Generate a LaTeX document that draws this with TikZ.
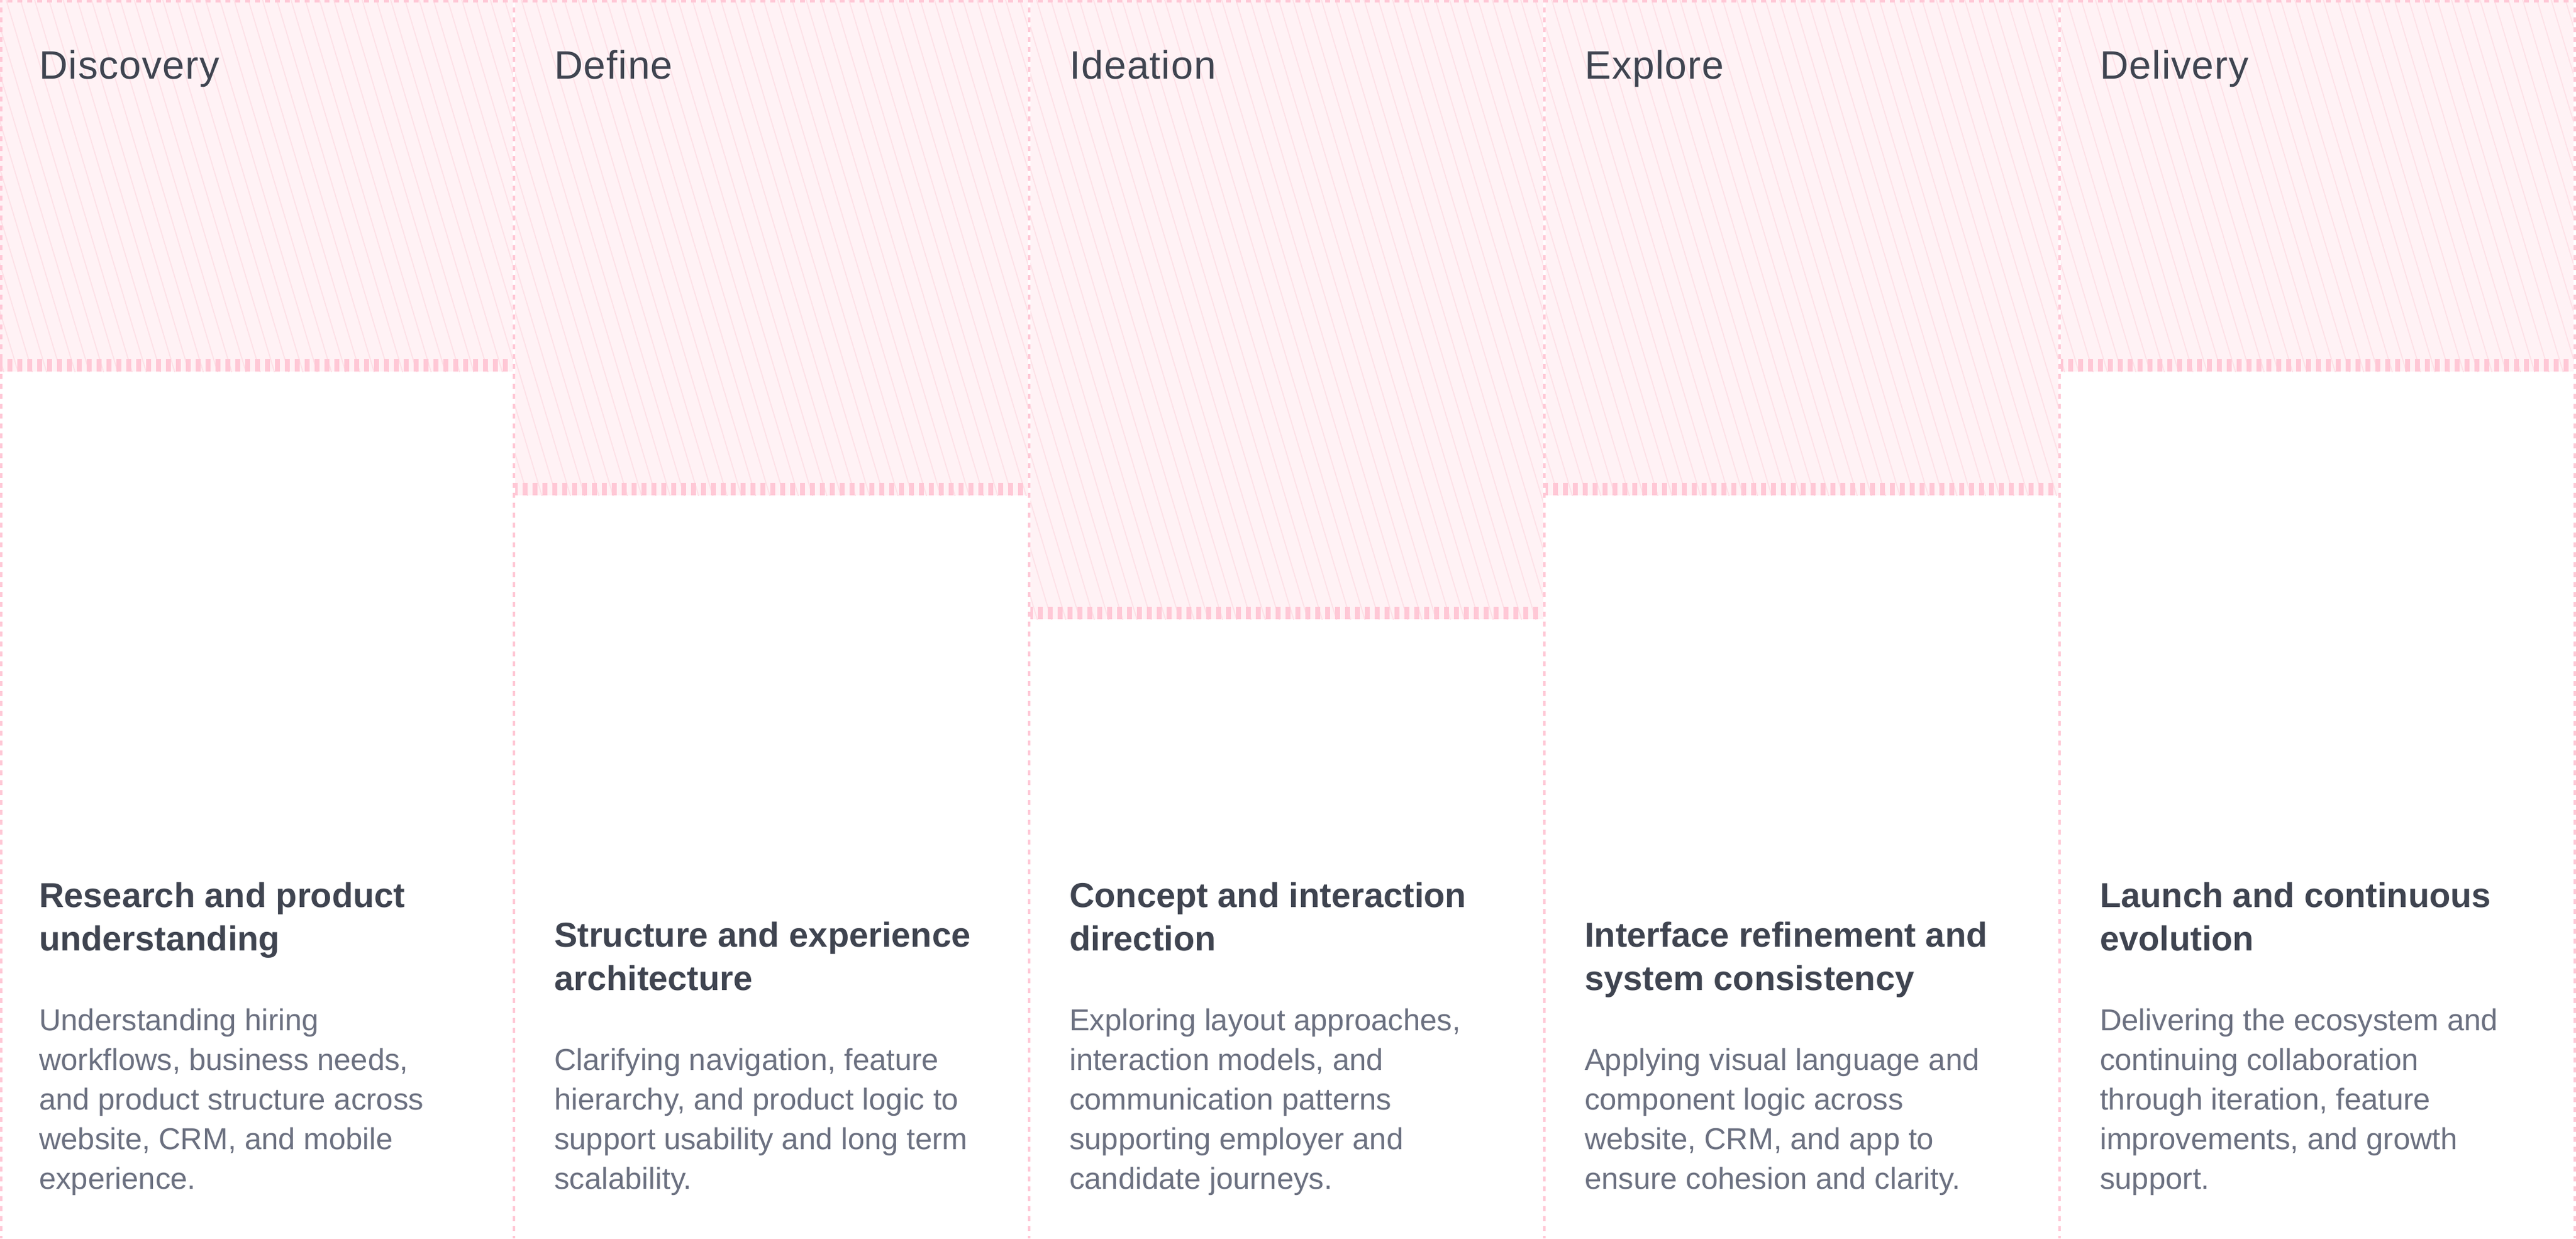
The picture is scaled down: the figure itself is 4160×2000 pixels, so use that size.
\documentclass[tikz,border=0pt]{standalone}
\usepackage{fontspec}
\setmainfont{Liberation Sans}
\newfontfamily\headfont[LetterSpace=2]{Liberation Sans}
\definecolor{hatchbg}{HTML}{FFF2F5}
\definecolor{hatchline}{HTML}{FDE1E7}
\definecolor{dashpink}{HTML}{FFC8D6}
\definecolor{headc}{HTML}{3F4450}
\definecolor{bodyc}{HTML}{6B7080}
\newcommand\mytitle[1]{\parbox[t]{780pt}{\raggedright\bfseries\fontsize{56}{70}\selectfont #1}}
\newcommand\mybody[1]{\parbox[t]{780pt}{\raggedright\fontsize{49}{64}\selectfont #1}}
\tikzset{
  head/.style={anchor=base west, inner sep=0pt, text=headc, font=\headfont\fontsize{64}{76}\selectfont},
  ttl/.style={anchor=base west, inner sep=0pt, text=headc},
  bdy/.style={anchor=base west, inner sep=0pt, text=bodyc},
  border/.style={draw=dashpink, line width=4pt, dash pattern=on 8pt off 8pt, dash phase=4pt},
  ruler/.style={draw=dashpink, line width=20pt, dash pattern=on 8pt off 8pt, dash phase=4pt},
  hatch/.style={draw=hatchline, line width=1.8pt}
}
\begin{document}
\begin{tikzpicture}[x=1pt,y=-1pt]
\useasboundingbox (0,0) rectangle (4160,2000);
\fill[white] (0,0) rectangle (4160,2000);
% hatched header blocks
\foreach \k/\h in {0/600,1/800,2/1000,3/800,4/600} {
  \pgfmathsetmacro\cx{832*\k}
  \fill[hatchbg] (\cx,0) rectangle (\cx+828,\h);
  \begin{scope}
    \clip (\cx,0) rectangle (\cx+828,\h);
    \foreach \i in {-15,...,37} {
      \draw[hatch] (\cx+\i*23+10,0) -- ++(330,1100);
    }
  \end{scope}
  \draw[ruler] (\cx,\h-10) -- (\cx+828,\h-10);
}
% borders
\draw[border] (0,2) -- (4160,2);
\foreach \x in {2,830,1662,2494,3326,4158} {
  \draw[border] (\x,0) -- (\x,2000);
}
% column 1
\node[head] (h1) at (63,127) {Discovery};
\node[ttl] (t1) at (63,1465) {\mytitle{Research and product\\understanding}};
\node[bdy] (b1) at (63,1664) {\mybody{Understanding hiring\\workflows, business needs,\\and product structure across\\website, CRM, and mobile\\experience.}};
% column 2
\node[head] (h2) at (895,127) {Define};
\node[ttl] (t2) at (895,1529) {\mytitle{Structure and experience\\architecture}};
\node[bdy] (b2) at (895,1728) {\mybody{Clarifying navigation, feature\\hierarchy, and product logic to\\support usability and long term\\scalability.}};
% column 3
\node[head] (h3) at (1727,127) {Ideation};
\node[ttl] (t3) at (1727,1465) {\mytitle{Concept and interaction\\direction}};
\node[bdy] (b3) at (1727,1664) {\mybody{Exploring layout approaches,\\interaction models, and\\communication patterns\\supporting employer and\\candidate journeys.}};
% column 4
\node[head] (h4) at (2559,127) {Explore};
\node[ttl] (t4) at (2559,1529) {\mytitle{Interface refinement and\\system consistency}};
\node[bdy] (b4) at (2559,1728) {\mybody{Applying visual language and\\component logic across\\website, CRM, and app to\\ensure cohesion and clarity.}};
% column 5
\node[head] (h5) at (3391,127) {Delivery};
\node[ttl] (t5) at (3391,1465) {\mytitle{Launch and continuous\\evolution}};
\node[bdy] (b5) at (3391,1664) {\mybody{Delivering the ecosystem and\\continuing collaboration\\through iteration, feature\\improvements, and growth\\support.}};
\end{tikzpicture}
\end{document}
